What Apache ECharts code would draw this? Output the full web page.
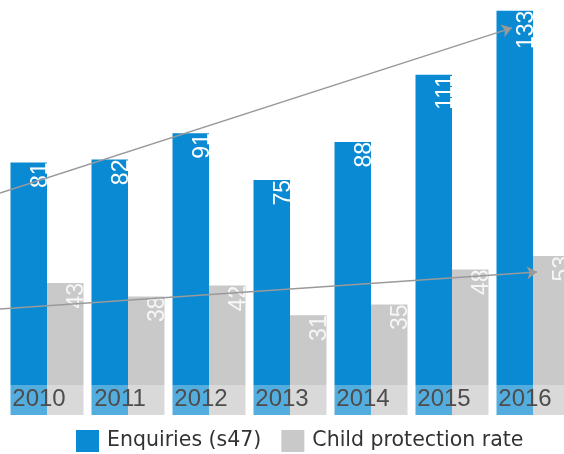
<!DOCTYPE html>
<html><head><meta charset="utf-8">
<script src="https://cdn.jsdelivr.net/npm/echarts@6/dist/echarts.min.js"></script>
<style>html,body{margin:0;padding:0;background:#fff}#c{width:564px;height:454px}</style>
</head><body><div id="c"></div>
<script>
// ---- data ----
const years = ['2010', '2011', '2012', '2013', '2014', '2015', '2016'];
const enquiries = [81, 82, 91, 75, 88, 111, 133];
const cpRate = [43, 38, 42, 31, 35, 48, 53];
const seriesNames = ['Enquiries (s47)', 'Child protection rate'];
// trend arrows: [category position, value]
const enquiriesTrend = [[-0.58, 70.5], [5.74, 127.1]];
const cpRateTrend = [[-0.58, 33.3], [6.05, 47.0]];

// ---- layout / style ----
const W = 564;
const catLeft = 6.5, catRight = -9.5, gridTop = 0, gridBottom = 39;
const step = (W - catLeft - catRight) / years.length;
const posMin = -catLeft / step - 0.5;
const posMax = (W - catLeft) / step - 0.5;
const BLUE = '#0a8ad2', GREY = '#c9c9c9', ARROW = '#9a9a9a';
const LABELFONT = '"Liberation Sans", Arial, sans-serif';
const blueAxis = { min: -5.48, max: 136.64 };
const greyAxis = { min: -5.93, max: 147.78 };

const barLabel = (color) => ({
  show: true, position: 'insideTop', rotate: 90, align: 'right', verticalAlign: 'top',
  distance: 0, color: color, fontFamily: LABELFONT, fontSize: 23
});
const hiddenY = (grid, ext) => ({ type: 'value', gridIndex: grid, min: ext.min, max: ext.max, show: false, splitLine: { show: false } });
// the picture's bars continue below the zero line down to the bottom strip
const filler = (name, stack, yIdx, ext, color) => ({
  name: name, type: 'bar', stack: stack, xAxisIndex: 0, yAxisIndex: yIdx,
  data: years.map(() => ext.min), barWidth: 36.5, barGap: '0%', silent: true,
  itemStyle: { color: color }, label: { show: false }
});
const arrow = (pts, yIdx) => ({
  type: 'line', xAxisIndex: 1, yAxisIndex: yIdx, data: pts, showSymbol: false, silent: true,
  lineStyle: { opacity: 0 }, z: 4,
  markLine: {
    silent: true, symbol: ['none', 'arrow'], symbolSize: 10,
    label: { show: false }, lineStyle: { color: ARROW, width: 1.5, type: 'solid' },
    emphasis: { disabled: true },
    data: [[{ coord: pts[0] }, { coord: pts[1] }]]
  }
});

const chart = echarts.init(document.getElementById('c'), null, { renderer: 'canvas' });
chart.setOption({
  animation: false,
  backgroundColor: '#fff',
  grid: [
    { left: catLeft, right: catRight, top: gridTop, bottom: gridBottom, containLabel: false, outerBoundsMode: 'none' },
    { left: 0, right: 0, top: gridTop, bottom: gridBottom, containLabel: false, outerBoundsMode: 'none' }
  ],
  legend: {
    data: seriesNames, left: 76, top: 430, padding: 0, icon: 'rect', itemWidth: 23, itemHeight: 22, itemGap: 20,
    textStyle: { fontFamily: '"DejaVu Sans", Verdana, sans-serif', fontSize: 20.5, color: '#333', padding: [0, 0, 0, 3] }
  },
  xAxis: [
    {
      type: 'category', gridIndex: 0, data: years, z: 10,
      axisLine: { show: false }, axisTick: { show: false }, splitLine: { show: false },
      axisLabel: { interval: 0, hideOverlap: false, margin: -16, verticalAlign: 'middle', align: 'center', padding: [0, 16, 0, 0],
        color: '#4d4d4d', fontFamily: LABELFONT, fontSize: 24 }
    },
    { type: 'value', gridIndex: 1, min: posMin, max: posMax, show: false, splitLine: { show: false } }
  ],
  yAxis: [hiddenY(0, blueAxis), hiddenY(0, greyAxis), hiddenY(1, blueAxis), hiddenY(1, greyAxis)],
  graphic: [{
    type: 'rect', z: 5, silent: true,
    shape: { x: 0, y: 385, width: W, height: 30 },
    style: { fill: 'rgba(255,255,255,0.3)' }
  }],
  series: [
    { name: seriesNames[0], type: 'bar', stack: 'enq', xAxisIndex: 0, yAxisIndex: 0, data: enquiries,
      barWidth: 36.5, barGap: '0%', itemStyle: { color: BLUE }, label: barLabel('#ffffff') },
    filler(seriesNames[0], 'enq', 0, blueAxis, BLUE),
    { name: seriesNames[1], type: 'bar', stack: 'cp', xAxisIndex: 0, yAxisIndex: 1, data: cpRate,
      barWidth: 36.5, barGap: '0%', itemStyle: { color: GREY }, label: barLabel('#f6f6f6') },
    filler(seriesNames[1], 'cp', 1, greyAxis, GREY),
    arrow(enquiriesTrend, 2),
    arrow(cpRateTrend, 3)
  ]
});
</script></body></html>
